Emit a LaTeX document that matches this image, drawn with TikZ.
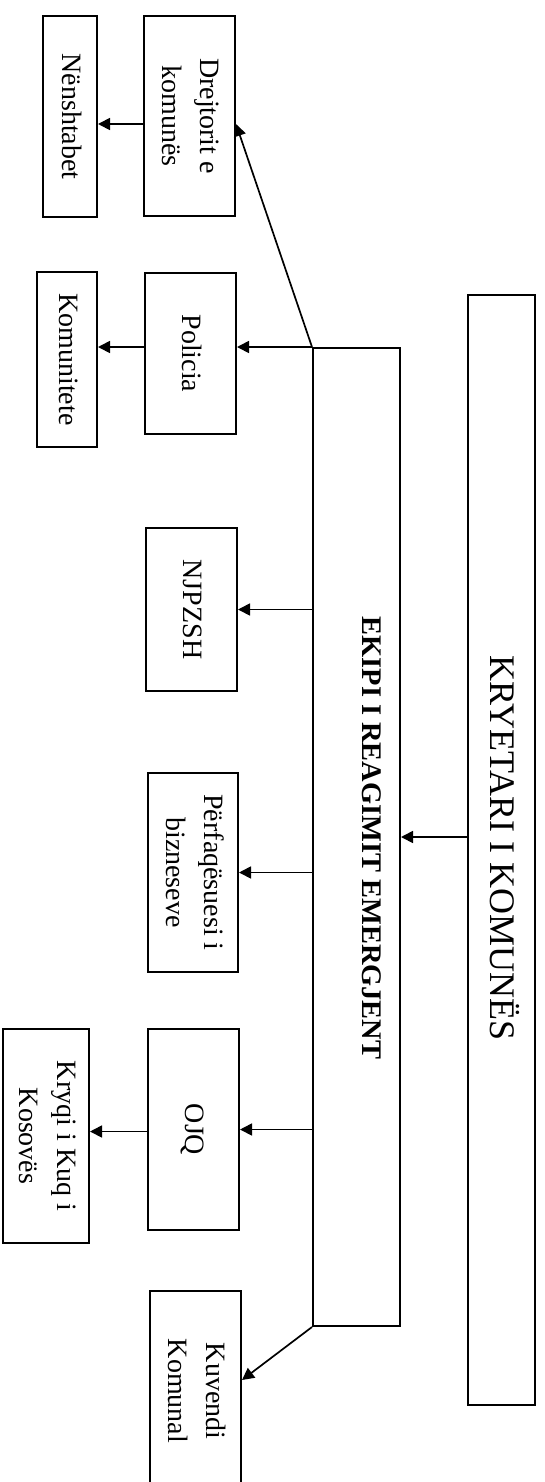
\documentclass[tikz,border=0pt]{standalone}
\usepackage{fontspec}
\setmainfont{Liberation Serif}
\usetikzlibrary{arrows.meta}
\newcommand{\rtxt}[1]{\rotatebox{-90}{\begin{tabular}{@{}c@{}}#1\end{tabular}}}
\tikzset{
  box/.style={draw, line width=2pt, inner sep=0pt, font=\fontsize{28}{38}\selectfont},
  arr/.style={line width=1.7pt, -{Triangle[length=12pt,width=12pt]}},
  lbl/.style={inner sep=0pt, rotate=-90}
}
\begin{document}
\begin{tikzpicture}[x=1pt,y=-1pt]
\useasboundingbox (0,0) rectangle (544,1482);
\clip (0,0) rectangle (544,1482);
% top levels
\node[box, minimum width=67pt, minimum height=1110pt] (kry) at (501.5,850) {};
\node[lbl, font=\fontsize{36}{40}\selectfont] (kryt) at (505,848) {KRYETARI I KOMUNËS};
\node[box, minimum width=87pt, minimum height=978pt] (eki) at (356.5,837) {};
\node[lbl, font=\fontsize{28.4}{32}\selectfont\bfseries] (ekit) at (372,838) {EKIPI I REAGIMIT EMERGJENT};
% second column
\node[box, minimum width=91pt, minimum height=200pt] (drej) at (189.5,116) {\rtxt{Drejtorit e\\komunës}};
\node[box, minimum width=91pt, minimum height=161pt] (pol) at (190.5,353.5) {\rtxt{Policia}};
\node[box, minimum width=91pt, minimum height=163pt] (njp) at (191.5,609.5) {\rtxt{NJPZSH}};
\node[box, minimum width=90pt, minimum height=199pt] (per) at (193,872.5) {\rtxt{Përfaqësuesi i\\bizneseve}};
\node[box, minimum width=91pt, minimum height=201pt] (ojq) at (193.5,1129.5) {\rtxt{OJQ}};
\node[box, minimum width=91pt, minimum height=200pt] (kuv) at (195.5,1391) {\rtxt{Kuvendi\\Komunal}};
% third column
\node[box, minimum width=54pt, minimum height=201pt] (nen) at (70,116.5) {\rtxt{Nënshtabet}};
\node[box, minimum width=60pt, minimum height=175pt] (kom) at (67,359.5) {\rtxt{Komunitete}};
\node[box, minimum width=86pt, minimum height=214pt] (kryq) at (46,1136) {\rtxt{Kryqi i Kuq i\\Kosovës}};
% connectors
\draw[arr] (kry.west |- eki.east) -- (eki.east);
\draw[arr] (eki.north west) -- ([yshift=-8pt]drej.east);
\draw[arr] (eki.north west) -- (pol.east |- eki.north west);
\draw[arr] (eki.west |- njp.east) -- (njp.east);
\draw[arr] (eki.west |- per.east) -- (per.east);
\draw[arr] (eki.west |- ojq.east) -- (ojq.east);
\draw[arr] (eki.south west) -- ([yshift=11pt]kuv.east);
\draw[arr] ([yshift=-8pt]drej.west) -- ([yshift=-8pt]drej.west -| nen.east);
\draw[arr] (pol.west |- eki.north west) -- (kom.east |- eki.north west);
\draw[arr] ([yshift=-2pt]ojq.west) -- ([yshift=-2pt]ojq.west -| kryq.east);
\end{tikzpicture}
\end{document}
